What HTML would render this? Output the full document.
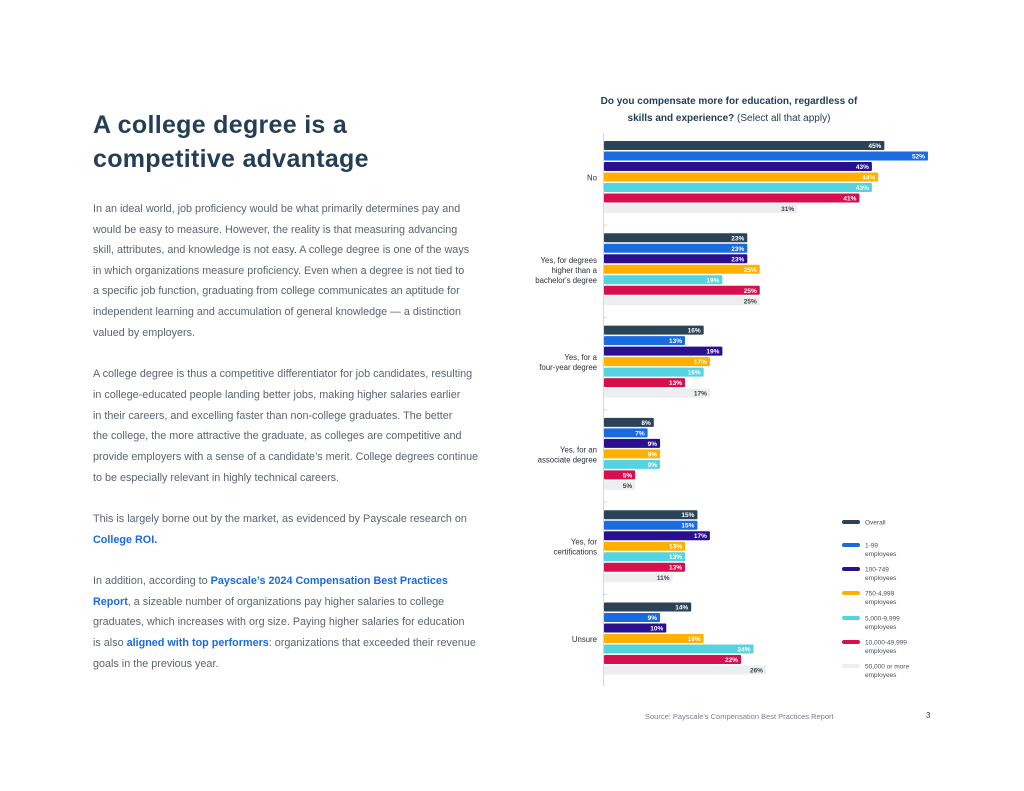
<!DOCTYPE html>
<html><head><meta charset="utf-8">
<style>
body{margin:0;background:#fff;}
#page{position:relative;width:1024px;height:791px;overflow:hidden;background:#fff;font-family:"Liberation Sans",sans-serif;}
h1{position:absolute;left:93px;top:108px;margin:0;font-size:25px;line-height:34px;font-weight:bold;color:#253d55;letter-spacing:0.3px;}
.ln{position:absolute;left:93px;font-size:10.8px;color:#5c6470;white-space:nowrap;line-height:14px;}
.ln b{color:#1a6be0;}
svg{position:absolute;left:0;top:0;}
</style></head>
<body>
<div id="page">
<h1>A college degree is a<br>competitive advantage</h1>
<div>
<div class="ln" style="top:202px">In an ideal world, job proficiency would be what primarily determines pay and</div>
<div class="ln" style="top:223px">would be easy to measure. However, the reality is that measuring advancing</div>
<div class="ln" style="top:243px">skill, attributes, and knowledge is not easy. A college degree is one of the ways</div>
<div class="ln" style="top:264px">in which organizations measure proficiency. Even when a degree is not tied to</div>
<div class="ln" style="top:284px">a specific job function, graduating from college communicates an aptitude for</div>
<div class="ln" style="top:305px">independent learning and accumulation of general knowledge — a distinction</div>
<div class="ln" style="top:326px">valued by employers.</div>
<div class="ln" style="top:367px">A college degree is thus a competitive differentiator for job candidates, resulting</div>
<div class="ln" style="top:388px">in college-educated people landing better jobs, making higher salaries earlier</div>
<div class="ln" style="top:409px">in their careers, and excelling faster than non-college graduates. The better</div>
<div class="ln" style="top:429px">the college, the more attractive the graduate, as colleges are competitive and</div>
<div class="ln" style="top:450px">provide employers with a sense of a candidate’s merit. College degrees continue</div>
<div class="ln" style="top:471px">to be especially relevant in highly technical careers.</div>
<div class="ln" style="top:512px">This is largely borne out by the market, as evidenced by Payscale research on</div>
<div class="ln" style="top:533px"><b>College ROI.</b></div>
<div class="ln" style="top:574px">In addition, according to <b>Payscale’s 2024 Compensation Best Practices</b></div>
<div class="ln" style="top:595px"><b>Report</b>, a sizeable number of organizations pay higher salaries to college</div>
<div class="ln" style="top:615px">graduates, which increases with org size. Paying higher salaries for education</div>
<div class="ln" style="top:636px">is also <b>aligned with top performers</b>: organizations that exceeded their revenue</div>
<div class="ln" style="top:657px">goals in the previous year.</div>
</div>
<svg id="chart" width="1024" height="791"></svg>
</div>
<script>
const categories = [["No"],["Yes, for degrees","higher than a","bachelor's degree"],["Yes, for a","four-year degree"],["Yes, for an","associate degree"],["Yes, for","certifications"],["Unsure"]];
const seriesNames = ["Overall","1-99 employees","100-749 employees","750-4,999 employees","5,000-9,999 employees","10,000-49,999 employees","50,000 or more employees"];
const legendLines = [["Overall"],["1-99","employees"],["100-749","employees"],["750-4,999","employees"],["5,000-9,999","employees"],["10,000-49,999","employees"],["50,000 or more","employees"]];
const overall = [45,23,16,8,15,14];
const s1_99 = [52,23,13,7,15,9];
const s100_749 = [43,23,19,9,17,10];
const s750_4999 = [44,25,17,9,13,16];
const s5000_9999 = [43,19,16,9,13,24];
const s10000_49999 = [41,25,13,5,13,22];
const s50000 = [31,25,17,5,11,26];
const series = [overall,s1_99,s100_749,s750_4999,s5000_9999,s10000_49999,s50000];
const colors = ["#2c4257","#1a6be0","#2a108f","#ffb000","#55d4e0","#d6104f","#edeef0"];

const NS="http://www.w3.org/2000/svg";
const svg=document.getElementById('chart');
function mk(t,a,p){const e=document.createElementNS(NS,t);for(const k in a)e.setAttribute(k,a[k]);(p||svg).appendChild(e);return e;}
const x0=604, pxPer=6.23;
const xs=v=>x0+v*pxPer;
const groupTop=i=>141+i*92.3;
const barY=(g,s)=>groupTop(g)+s*10.5;
const barH=9;

let t=mk('text',{x:729,y:104,'text-anchor':'middle','font-size':'10px','font-weight':'bold',fill:'#253d55','font-family':'Liberation Sans, sans-serif'});
t.textContent='Do you compensate more for education, regardless of';


t=mk('text',{x:729,y:121,'text-anchor':'middle','font-size':'10px',fill:'#253d55','font-family':'Liberation Sans, sans-serif'});
t.innerHTML='<tspan font-weight="bold">skills and experience?</tspan> (Select all that apply)';



let ax=mk('line',{x1:603.5,y1:133,x2:603.5,y2:686,stroke:'#d5d7db','stroke-width':1});


for(let g=1;g<categories.length;g++){
  const ty=groupTop(g)-8;
  const tk=mk('line',{x1:603,y1:ty,x2:607,y2:ty,stroke:'#d5d7db'});
  
  
}

categories.forEach((lines,g)=>{
  const cy=groupTop(g)+36.5;
  const lbl=mk('text',{x:597,'text-anchor':'end','font-size':'7.8px',fill:'#2b2f36','font-family':'Liberation Sans, sans-serif'});
  
  
  lines.forEach((l,i)=>{const ts=mk('tspan',{x:597,y:cy+3+(i-(lines.length-1)/2)*10},lbl);ts.textContent=l;});
  series.forEach((arr,s)=>{
    const v=arr[g], y=barY(g,s);
    const r=mk('rect',{x:x0,y:y,width:xs(v)-x0,height:barH,fill:colors[s],rx:1});
    
    
    const vt=mk('text',{x:xs(v)-3,y:y+7,'text-anchor':'end','font-size':'6.5px','font-weight':'bold',fill:s===6?'#3a3f47':'#fff','font-family':'Liberation Sans, sans-serif'});
    vt.textContent=v+'%';
    
    
  });
});

const legY=[522,545,569,593,618,642,666];
legendLines.forEach((lines,i)=>{
  const g=mk('g',{});
  
  
  mk('rect',{x:842,y:legY[i]-2,width:18,height:4,rx:2,fill:colors[i]},g);
  lines.forEach((l,j)=>{const tt=mk('text',{x:865,y:legY[i]+2.5+j*8.5,'font-size':'6.5px',fill:'#4a4f57','font-family':'Liberation Sans, sans-serif'},g);tt.textContent=l;});
});

t=mk('text',{x:645,y:719,'font-size':'7.5px',fill:'#7a7f87','font-family':'Liberation Sans, sans-serif'});
t.textContent="Source: Payscale's Compensation Best Practices Report";


t=mk('text',{x:926,y:718,'font-size':'8px',fill:'#3a3f47','font-family':'Liberation Sans, sans-serif'});
t.textContent="3";


</script>
</body></html>
